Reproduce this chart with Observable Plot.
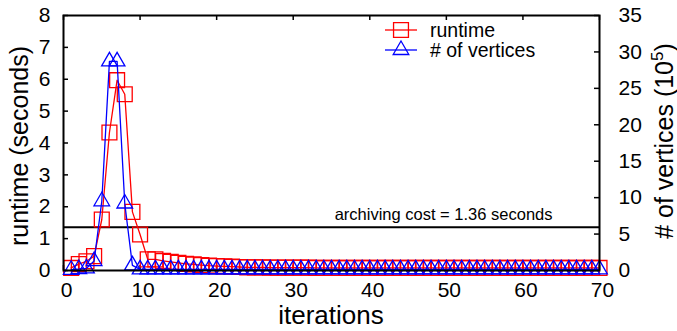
<!DOCTYPE html>
<html>
<head>
<meta charset="utf-8">
<script src="https://cdn.jsdelivr.net/npm/d3@7"></script>
<script src="https://cdn.jsdelivr.net/npm/@observablehq/plot@0.6"></script>
<style>
  html, body { margin: 0; padding: 0; background: #fff; }
  #chart { width: 677px; height: 331px; }
  svg { font-family: "Liberation Sans", Arial, Helvetica, sans-serif; }
</style>
</head>
<body>
<div id="chart"></div>
<script>
// ---- data ----
const iterations = d3.range(1, 71);
const runtimeSeconds = [
  0.08, 0.2, 0.29, 0.45, 1.6, 4.33, 5.97, 5.53, 1.84, 1.13,
  0.35, 0.35, 0.3, 0.27, 0.24, 0.21, 0.19, 0.17, 0.15, 0.14,
  0.13, 0.12, 0.11, 0.1, 0.1, 0.1, 0.09, 0.09, 0.09, 0.09,
  0.09, 0.09, 0.08, 0.08, 0.08, 0.08, 0.08, 0.08, 0.08, 0.08,
  0.08, 0.08, 0.08, 0.08, 0.08, 0.08, 0.08, 0.08, 0.08, 0.08,
  0.08, 0.08, 0.08, 0.08, 0.08, 0.08, 0.08, 0.08, 0.08, 0.08,
  0.08, 0.08, 0.08, 0.08, 0.08, 0.08, 0.08, 0.08, 0.08, 0.08
];
const vertices1e5 = [
  0.1, 0.2, 0.3, 1.3, 9.5, 28.7, 28.7, 9.2, 0.7, 0.15,
  0.15, 0.15, 0.15, 0.15, 0.15, 0.15, 0.15, 0.15, 0.15, 0.15,
  0.15, 0.15, 0.15, 0.15, 0.15, 0.15, 0.15, 0.15, 0.15, 0.15,
  0.15, 0.15, 0.15, 0.15, 0.15, 0.15, 0.15, 0.15, 0.15, 0.15,
  0.15, 0.15, 0.15, 0.15, 0.15, 0.15, 0.15, 0.15, 0.15, 0.15,
  0.15, 0.15, 0.15, 0.15, 0.15, 0.15, 0.15, 0.15, 0.15, 0.15,
  0.15, 0.15, 0.15, 0.15, 0.15, 0.15, 0.15, 0.15, 0.15, 0.15
];
const xTicks = [0, 10, 20, 30, 40, 50, 60, 70];
const yLeftTicks = [0, 1, 2, 3, 4, 5, 6, 7, 8];
const yRightTicks = [0, 5, 10, 15, 20, 25, 30, 35];
const archivingCost = 1.36;
const annotationText = "archiving cost = 1.36 seconds";
const seriesNames = ["runtime", "# of vertices"];

const leftMax = 8, rightMax = 35;
const toLeft = v => v * leftMax / rightMax;

const rows = iterations.map((it, i) => ({it, rt: runtimeSeconds[i], vx: vertices1e5[i]}));

const RED = "#ff0000", BLUE = "#0000ff";
const tickLen = 5;
const frameH = 331 - 15 - 61;
const frameW = 677 - 63 - 78;

const plot = Plot.plot({
  width: 677,
  height: 331,
  marginLeft: 63,
  marginRight: 78,
  marginTop: 15,
  marginBottom: 61,
  style: {fontFamily: "Liberation Sans, Arial, sans-serif", fontSize: "21px", color: "#000", background: "#fff"},
  x: {domain: [0, 70]},
  y: {domain: [0, leftMax]},
  marks: [
    // inward ticks
    Plot.tickX(xTicks, {x: d => d, insetTop: frameH - tickLen, stroke: "#000", strokeWidth: 1.5}),
    Plot.tickX(xTicks, {x: d => d, insetBottom: frameH - tickLen, stroke: "#000", strokeWidth: 1.5}),
    Plot.tickY(yLeftTicks, {y: d => d, insetRight: frameW - tickLen, stroke: "#000", strokeWidth: 1.5}),
    Plot.tickY(yRightTicks, {y: d => toLeft(d), insetLeft: frameW - tickLen, stroke: "#000", strokeWidth: 1.5}),
    // axes labels
    Plot.axisX(xTicks, {anchor: "bottom", tickSize: 0, tickPadding: 12, dx: 3, fontSize: 21, label: null}),
    Plot.axisY(yLeftTicks, {anchor: "left", tickSize: 0, tickPadding: 13, fontSize: 21, label: null}),
    Plot.axisY(yRightTicks.map(toLeft), {anchor: "right", tickSize: 0, tickPadding: 19, fontSize: 21, label: null,
      tickFormat: d => String(Math.round(d * rightMax / leftMax))}),
    // archiving cost
    Plot.ruleY([archivingCost], {stroke: "#000", strokeWidth: 2}),
    Plot.text([annotationText], {frameAnchor: "right", y: archivingCost, text: d => d, textAnchor: "end",
      dx: -47, dy: -12, fontSize: 16.5, fill: "#000"}),
    // runtime
    Plot.line(rows, {x: "it", y: "rt", stroke: RED, strokeWidth: 1.3}),
    Plot.dot(rows, {x: "it", y: "rt", symbol: "square", r: 8.4, stroke: RED, fill: "none", strokeWidth: 1.3}),
    // vertices
    Plot.line(rows, {x: "it", y: d => toLeft(d.vx), stroke: BLUE, strokeWidth: 1.3}),
    Plot.dot(rows, {x: "it", y: d => toLeft(d.vx), symbol: "triangle", r: 5.8, stroke: BLUE, fill: "none", strokeWidth: 1.3}),
    Plot.frame({stroke: "#000", strokeWidth: 2})
  ]
});

const svg = d3.select(plot);

// Legend
const legend = svg.append("g").attr("font-size", 19.5).attr("text-anchor", "start")
  .attr("font-family", "Liberation Sans, Arial, sans-serif");
const legendItems = [
  {name: seriesNames[0], color: RED, sym: d3.symbolSquare, size: Math.PI * 8.4 * 8.4, y: 30},
  {name: seriesNames[1], color: BLUE, sym: d3.symbolTriangle, size: Math.PI * 5.8 * 5.8, y: 50}
];
for (const it of legendItems) {
  legend.append("line").attr("x1", 385).attr("x2", 417).attr("y1", it.y).attr("y2", it.y)
    .attr("stroke", it.color).attr("stroke-width", 1.3);
  legend.append("path").attr("d", d3.symbol(it.sym, it.size)()).attr("transform", `translate(401,${it.y})`)
    .attr("fill", "none").attr("stroke", it.color).attr("stroke-width", 1.3);
  legend.append("text").attr("x", 430).attr("y", it.y + 7).attr("fill", "#000").text(it.name);
}

// Axis titles
svg.append("text").attr("x", 331).attr("y", 324).attr("text-anchor", "middle")
  .attr("font-size", 26).attr("fill", "#000").text("iterations");
svg.append("text").attr("transform", "translate(28,146) rotate(-90)").attr("text-anchor", "middle")
  .attr("font-size", 25).attr("fill", "#000").text("runtime (seconds)");
const rt = svg.append("text").attr("transform", "translate(673,141) rotate(-90)").attr("text-anchor", "middle")
  .attr("font-size", 25).attr("fill", "#000");
rt.append("tspan").text("# of vertices (10");
rt.append("tspan").attr("font-size", 17).attr("dy", -10).text("5");
rt.append("tspan").attr("dy", 10).text(")");

document.getElementById("chart").appendChild(plot);
</script>
</body>
</html>
